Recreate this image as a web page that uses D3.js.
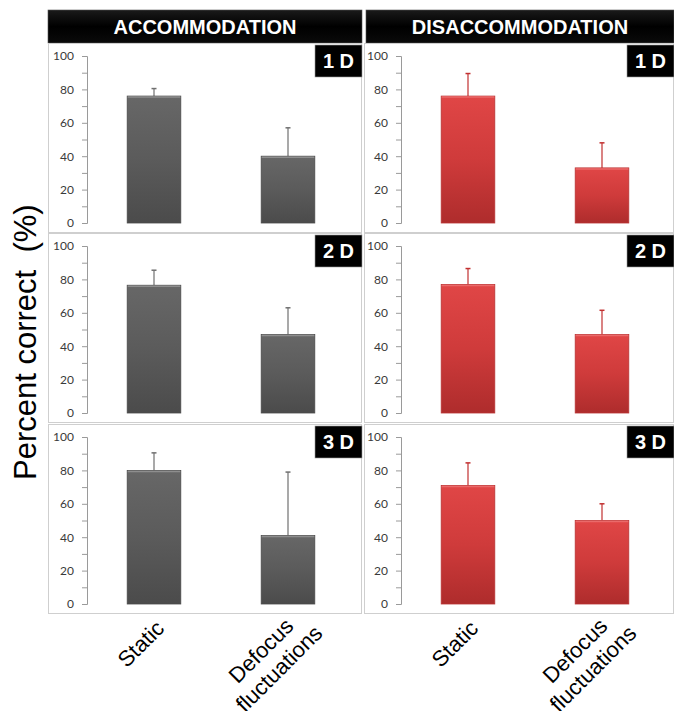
<!DOCTYPE html>
<html>
<head>
<meta charset="utf-8">
<script src="https://cdn.jsdelivr.net/npm/d3@7"></script>
<style>
  html, body { margin: 0; padding: 0; background: #fff; }
  svg { display: block; }
</style>
</head>
<body>
<svg id="chart" width="674" height="711"></svg>
<script>
// Percent correct by condition, for each defocus step and direction
const columns = ["ACCOMMODATION", "DISACCOMMODATION"];
const steps = ["1 D", "2 D", "3 D"];
const conditions = ["Static", "Defocus fluctuations"];
const yTicks = [0, 10, 20, 30, 40, 50, 60, 70, 80, 90, 100];

const accommodationMean = [[76, 40], [76.5, 47], [80, 41]];
const accommodationErr  = [[4.5, 17], [9, 16], [10.5, 38]];
const disaccommodationMean = [[76, 33], [77, 47], [71, 50]];
const disaccommodationErr  = [[13.5, 15], [9.5, 14.5], [13.5, 10]];

const means = [accommodationMean, disaccommodationMean];
const errs = [accommodationErr, disaccommodationErr];

const svg = d3.select("#chart");
const defs = svg.append("defs");

function vGrad(id, stops) {
  const g = defs.append("linearGradient").attr("id", id)
    .attr("x1", 0).attr("y1", 0).attr("x2", 0).attr("y2", 1);
  stops.forEach(([o, c]) => g.append("stop").attr("offset", o).attr("stop-color", c));
}
vGrad("barGray", [[0, "#676767"], [0.5, "#5b5b5b"], [1, "#4b4b4b"]]);
vGrad("barRed", [[0, "#e04646"], [0.5, "#cf3b3b"], [1, "#ae2c2c"]]);
vGrad("headBlack", [[0, "#1a1a1a"], [0.5, "#000"], [1, "#0a0a0a"]]);

const palette = [
  { fill: "url(#barGray)", top: "#8e8e8e", edge: "#4a4a4a", err: "#707070" },
  { fill: "url(#barRed)", top: "#ea6a6a", edge: "#b83434", err: "#c23030" }
];

const colX = [48, 364];
const colW = [314, 310];
const rowY = [43, 233, 424];
const rowH = 190;
const axisOffset = [39, 37];
const font = "'Liberation Sans', Arial, Helvetica, sans-serif";

// column headers
const headX = [48, 366];
const headW = [314, 308];
columns.forEach((name, c) => {
  svg.append("rect").attr("x", headX[c]).attr("y", 10)
    .attr("width", headW[c]).attr("height", 33)
    .attr("fill", "url(#headBlack)").attr("stroke", "#555").attr("stroke-width", 0.6);
  svg.append("text").attr("x", headX[c] + headW[c] / 2).attr("y", 34)
    .attr("text-anchor", "middle").attr("fill", "#fff")
    .attr("font-family", font).attr("font-weight", "bold").attr("font-size", 20)
    .text(name);
});

// panels
columns.forEach((_, c) => {
  steps.forEach((step, r) => {
    const px = colX[c], py = rowY[r];
    const g = svg.append("g");

    g.append("rect").attr("x", px + 0.5).attr("y", py + 0.5)
      .attr("width", colW[c] - 1).attr("height", rowH - 1)
      .attr("fill", "#fff").attr("stroke", "#cfcfcf").attr("stroke-width", 1);

    const x0 = px + axisOffset[c];
    const x = d3.scaleBand().domain(conditions)
      .range([x0, x0 + 268]).paddingInner(0.6).paddingOuter(0.3);
    const y = d3.scaleLinear().domain([0, 100]).range([py + 180, py + 13]);

    const axis = g.append("g").attr("transform", `translate(${x0},0)`)
      .call(d3.axisLeft(y).tickValues(yTicks).tickSize(5).tickPadding(8)
        .tickFormat(d => d % 20 === 0 ? d : ""));
    axis.select(".domain").attr("stroke", "#9a9a9a");
    axis.selectAll(".tick line").attr("stroke", "#9a9a9a");
    axis.selectAll(".tick text").attr("fill", "#3a3a3a")
      .attr("font-family", "Lato, 'Open Sans', sans-serif").attr("font-size", 12);

    const data = conditions.map((cond, i) => ({ cond, v: means[c][r][i], e: errs[c][r][i] }));
    const p = palette[c];

    // error bars (upper only)
    data.forEach(d => {
      const cx = x(d.cond) + x.bandwidth() / 2;
      g.append("line").attr("x1", cx).attr("x2", cx)
        .attr("y1", y(d.v)).attr("y2", y(d.v + d.e))
        .attr("stroke", p.err).attr("stroke-width", 1.2);
      g.append("line").attr("x1", cx - 2.5).attr("x2", cx + 2.5)
        .attr("y1", y(d.v + d.e)).attr("y2", y(d.v + d.e))
        .attr("stroke", p.err).attr("stroke-width", 1.5);
    });

    // bars
    data.forEach(d => {
      const bx = x(d.cond), bw = x.bandwidth();
      g.append("rect").attr("x", bx).attr("y", y(d.v))
        .attr("width", bw).attr("height", y(0) - y(d.v))
        .attr("fill", p.fill).attr("stroke", p.edge).attr("stroke-width", 0.8);
      g.append("line").attr("x1", bx + 0.5).attr("x2", bx + bw - 0.5)
        .attr("y1", y(d.v) + 1).attr("y2", y(d.v) + 1)
        .attr("stroke", p.top).attr("stroke-width", 1.5);
    });

    // step label box
    const bxR = px + colW[c];
    g.append("rect").attr("x", bxR - 47).attr("y", py + 2)
      .attr("width", 47).attr("height", 32)
      .attr("fill", "#000").attr("stroke", "#9a9a9a").attr("stroke-width", 0.6);
    g.append("text").attr("x", bxR - 23.5).attr("y", py + 25)
      .attr("text-anchor", "middle").attr("fill", "#fff")
      .attr("font-family", font).attr("font-weight", "bold").attr("font-size", 20)
      .text(step);

    // category labels under the bottom row: rotated blocks, end-anchored,
    // lines centred on each other
    if (r === steps.length - 1) {
      const lh = 25.5;
      conditions.forEach(cond => {
        const cx = x(cond) + x.bandwidth() / 2;
        const words = cond.split(" ");
        const n = words.length;
        const ax = cx + 6 + (n - 1) * 15;
        const ay = py + rowH + 10 - (n - 1) * 4;
        const lab = svg.append("g")
          .attr("transform", `translate(${ax},${ay}) rotate(-45)`);
        const texts = words.map((w, k) => lab.append("text")
          .attr("y", (k - (n - 1) / 2) * lh + 8)
          .attr("font-family", font).attr("font-size", 22).attr("fill", "#000")
          .text(w));
        const maxW = d3.max(texts.map(t => t.node().getComputedTextLength()));
        texts.forEach(t => t.attr("text-anchor", "middle").attr("x", -maxW / 2));
      });
    }
  });
});

// y axis title
svg.append("text")
  .attr("transform", "translate(36,480) rotate(-90)")
  .attr("font-family", font).attr("font-size", 31).attr("fill", "#000")
  .style("white-space", "pre")
  .text("Percent correct  (%)");
</script>
</body>
</html>
